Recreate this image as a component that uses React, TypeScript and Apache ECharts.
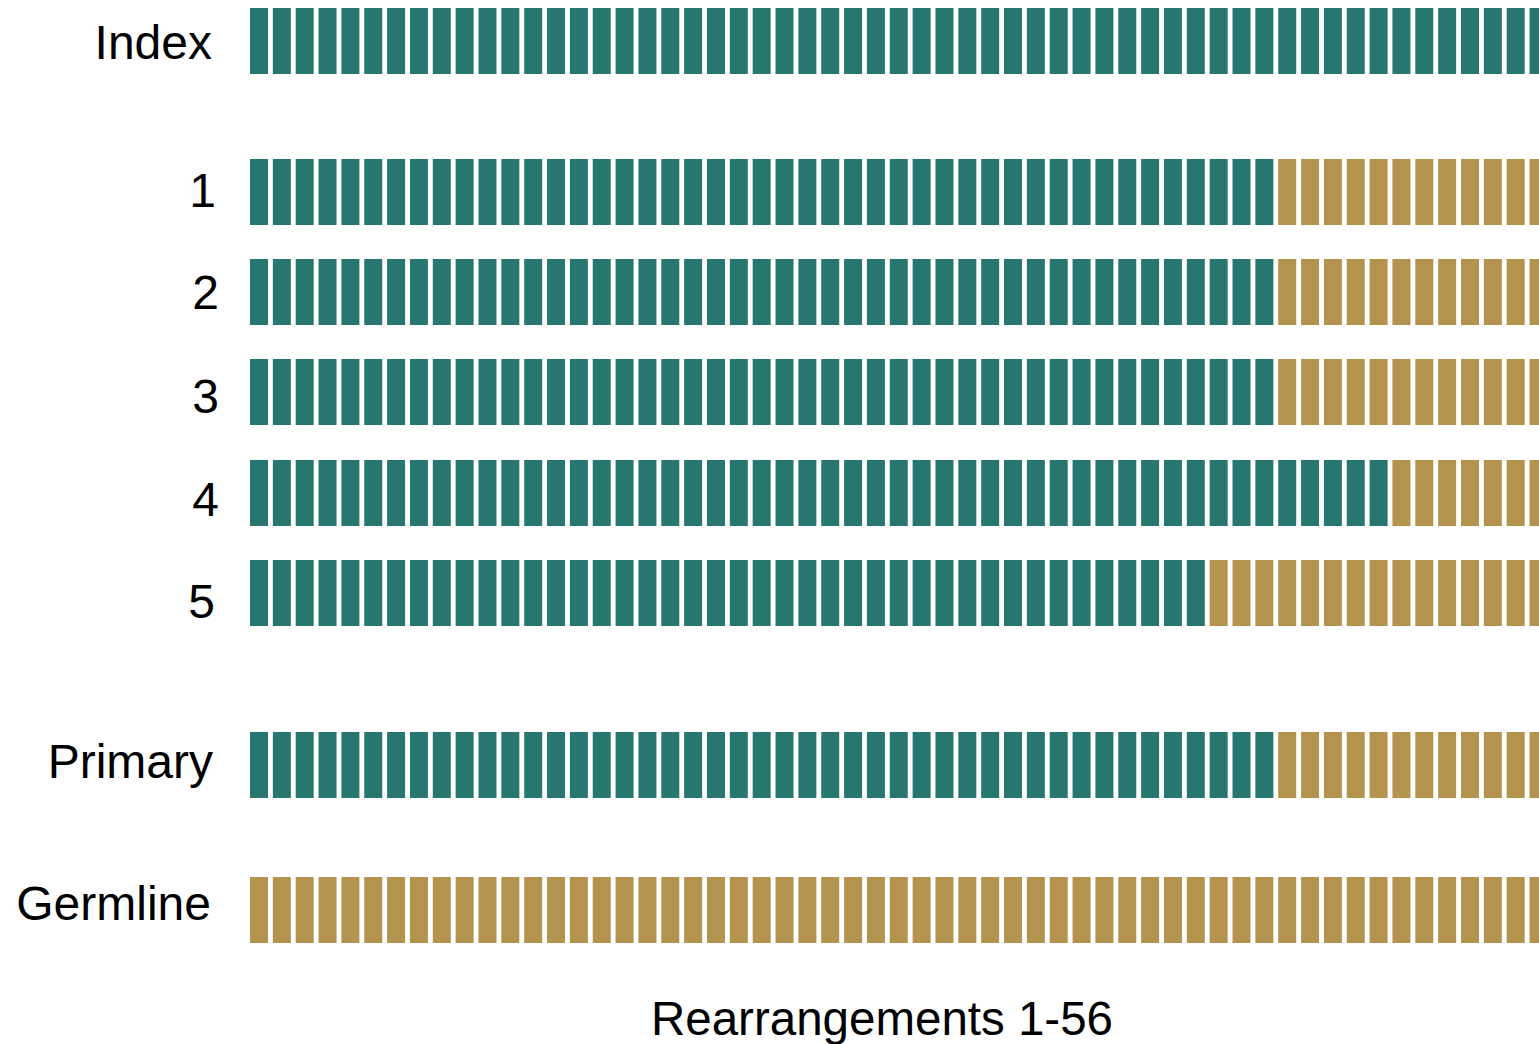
import React, { useEffect, useRef } from "react";
import * as echarts from "echarts";

// ---- data ----
const rowLabels = ["Index", "1", "2", "3", "4", "5", "Primary", "Germline"];
// 1 = teal (detected), 0 = gold; one character per rearrangement column
const rowIndex = "1111111111 1111111111 1111111111 1111111111 1111111111 1111111";
const row1 = "1111111111 1111111111 1111111111 1111111111 1111100000 0000000";
const row2 = "1111111111 1111111111 1111111111 1111111111 1111100000 0000000";
const row3 = "1111111111 1111111111 1111111111 1111111111 1111100000 0000000";
const row4 = "1111111111 1111111111 1111111111 1111111111 1111111111 0000000";
const row5 = "1111111111 1111111111 1111111111 1111111111 1100000000 0000000";
const rowPrimary = "1111111111 1111111111 1111111111 1111111111 1111100000 0000000";
const rowGermline = "0000000000 0000000000 0000000000 0000000000 0000000000 0000000";
const rowStrings = [rowIndex, row1, row2, row3, row4, row5, rowPrimary, rowGermline];
const xTitle = "Rearrangements 1-56";

// ---- style / layout ----
const TEAL = "#287670";
const GOLD = "#B4934E";
const FONT = "'Liberation Sans', Arial, sans-serif";
const GRID_LEFT = 250;
const ROW_TOPS = [8, 159, 259, 359, 460, 560, 732, 877];
const ROW_HEIGHT = 66;
const NAME_GAPS = [38, 34, 31, 31, 31, 35, 37, 39];
const NAME_SHIFT = [1, -1.5, 0, 4, 6, 8.5, -4, -7];

export default function App() {
  const ref = useRef<HTMLDivElement>(null);
  useEffect(() => {
    if (!ref.current) return;
    const chart = echarts.init(ref.current, undefined, { renderer: "svg" });
    const cells = rowStrings.map((s) => s.replace(/ /g, "").split(""));
    const grids = rowLabels.map((_, i) => ({
      left: GRID_LEFT,
      right: 0,
      top: ROW_TOPS[i],
      height: ROW_HEIGHT,
    }));
    const xAxes = rowLabels.map((_, i) => ({
      gridIndex: i,
      type: "value",
      min: -0.394,
      max: 56.02,
      show: false,
    }));
    const yAxes = rowLabels.map((_, i) => ({
      gridIndex: i,
      type: "value",
      min: 0,
      max: 1,
      show: false,
    }));
    const series = rowLabels.map((label, i) => ({
      type: "bar",
      name: label,
      xAxisIndex: i,
      yAxisIndex: i,
      barWidth: 18,
      clip: true,
      data: cells[i].map((c, k) => ({
        value: [k, 1],
        itemStyle: { color: c === "1" ? TEAL : GOLD },
      })),
    }));
    const labelTexts = rowLabels.map((label, i) => ({
      type: "text",
      x: GRID_LEFT - NAME_GAPS[i],
      y: ROW_TOPS[i] + ROW_HEIGHT / 2 + NAME_SHIFT[i],
      style: {
        text: label,
        fontSize: 48,
        fontFamily: FONT,
        fill: "#000",
        align: "right",
        verticalAlign: "middle",
      },
    }));
    chart.setOption({
      animation: false,
      grid: grids,
      xAxis: xAxes,
      yAxis: yAxes,
      series,
      graphic: [
        ...labelTexts,
        {
          type: "text",
          x: 882,
          y: 1018,
          style: {
            text: xTitle,
            fontSize: 47.5,
            fontFamily: FONT,
            fill: "#000",
            align: "center",
            verticalAlign: "middle",
          },
        },
      ],
    });
    return () => chart.dispose();
  }, []);
  return (
    <div
      ref={ref}
      style={{ position: "absolute", left: 0, top: 0, width: 1539, height: 1044, background: "#fff" }}
    />
  );
}
